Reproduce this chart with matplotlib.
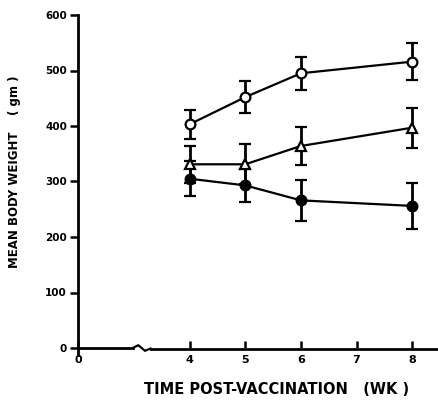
import matplotlib
matplotlib.use('Agg')
import matplotlib.pyplot as plt

plt.rcParams['font.family'] = ['DejaVu Sans']
plt.rcParams['font.weight'] = 'bold'

weeks = [4, 5, 6, 8]

# open circles
open_circ = [403, 452, 495, 516]
open_circ_err = [26, 29, 30, 33]
# open triangles
tri = [331, 331, 364, 397]
tri_err = [33, 36, 34, 36]
# filled circles
filled = [305, 293, 266, 256]
filled_err = [32, 30, 37, 42]

xticks = [2, 4, 5, 6, 7, 8]
xticklabels = ["0", "4", "5", "6", "7", "8"]
yticks = [0, 100, 200, 300, 400, 500, 600]

fig = plt.figure(figsize=(4.39, 4.0), dpi=100)
ax = fig.add_axes([0.178, 0.13, 0.817, 0.8325])

kw = dict(color='black', lw=1.6, elinewidth=2.0, capsize=4, capthick=2.0,
          markersize=7, markeredgewidth=1.6)
ax.errorbar(weeks, filled, yerr=filled_err, fmt='-o', mfc='black', mec='black', **kw)
ax.errorbar(weeks, tri, yerr=tri_err, fmt='-^', mfc='white', mec='black', **kw)
ax.errorbar(weeks, open_circ, yerr=open_circ_err, fmt='-o', mfc='white', mec='black', **kw)

ax.set_xlim(2, 8.44)
ax.set_ylim(0, 600)
ax.set_xticks(xticks)
ax.set_xticklabels(xticklabels, fontsize=8, fontweight='bold')
ax.set_yticks(yticks)
ax.set_yticklabels([str(v) for v in yticks], fontsize=7.5, fontweight='bold')

for s in ['top', 'right', 'bottom']:
    ax.spines[s].set_visible(False)
ax.spines['left'].set_linewidth(2)
ax.tick_params(axis='y', direction='out', length=6, width=1.8, pad=2)
ax.tick_params(axis='x', direction='in', length=5, width=1.8, pad=5)

# broken x axis
ax.plot([2, 2.98], [0, 0], color='black', lw=2, clip_on=False)
ax.plot([2.98, 3.08, 3.2, 3.3], [0, 5, -5, -1], color='black', lw=1.6, clip_on=False)
ax.plot([3.3, 8.44], [-1, -1], color='black', lw=2, clip_on=False)
ax.plot([2, 2], [0, -12], color='black', lw=2, clip_on=False)

fig.text(0.034, 0.57, "MEAN BODY WEIGHT    ( gm )", rotation=90, ha='center',
         va='center', fontsize=8.5, fontweight='bold')
fig.text(0.63, 0.025, "TIME POST-VACCINATION   (WK )", ha='center', va='center',
         fontsize=10.5, fontweight='bold')

plt.savefig('out.png', dpi=100)
plt.close()
